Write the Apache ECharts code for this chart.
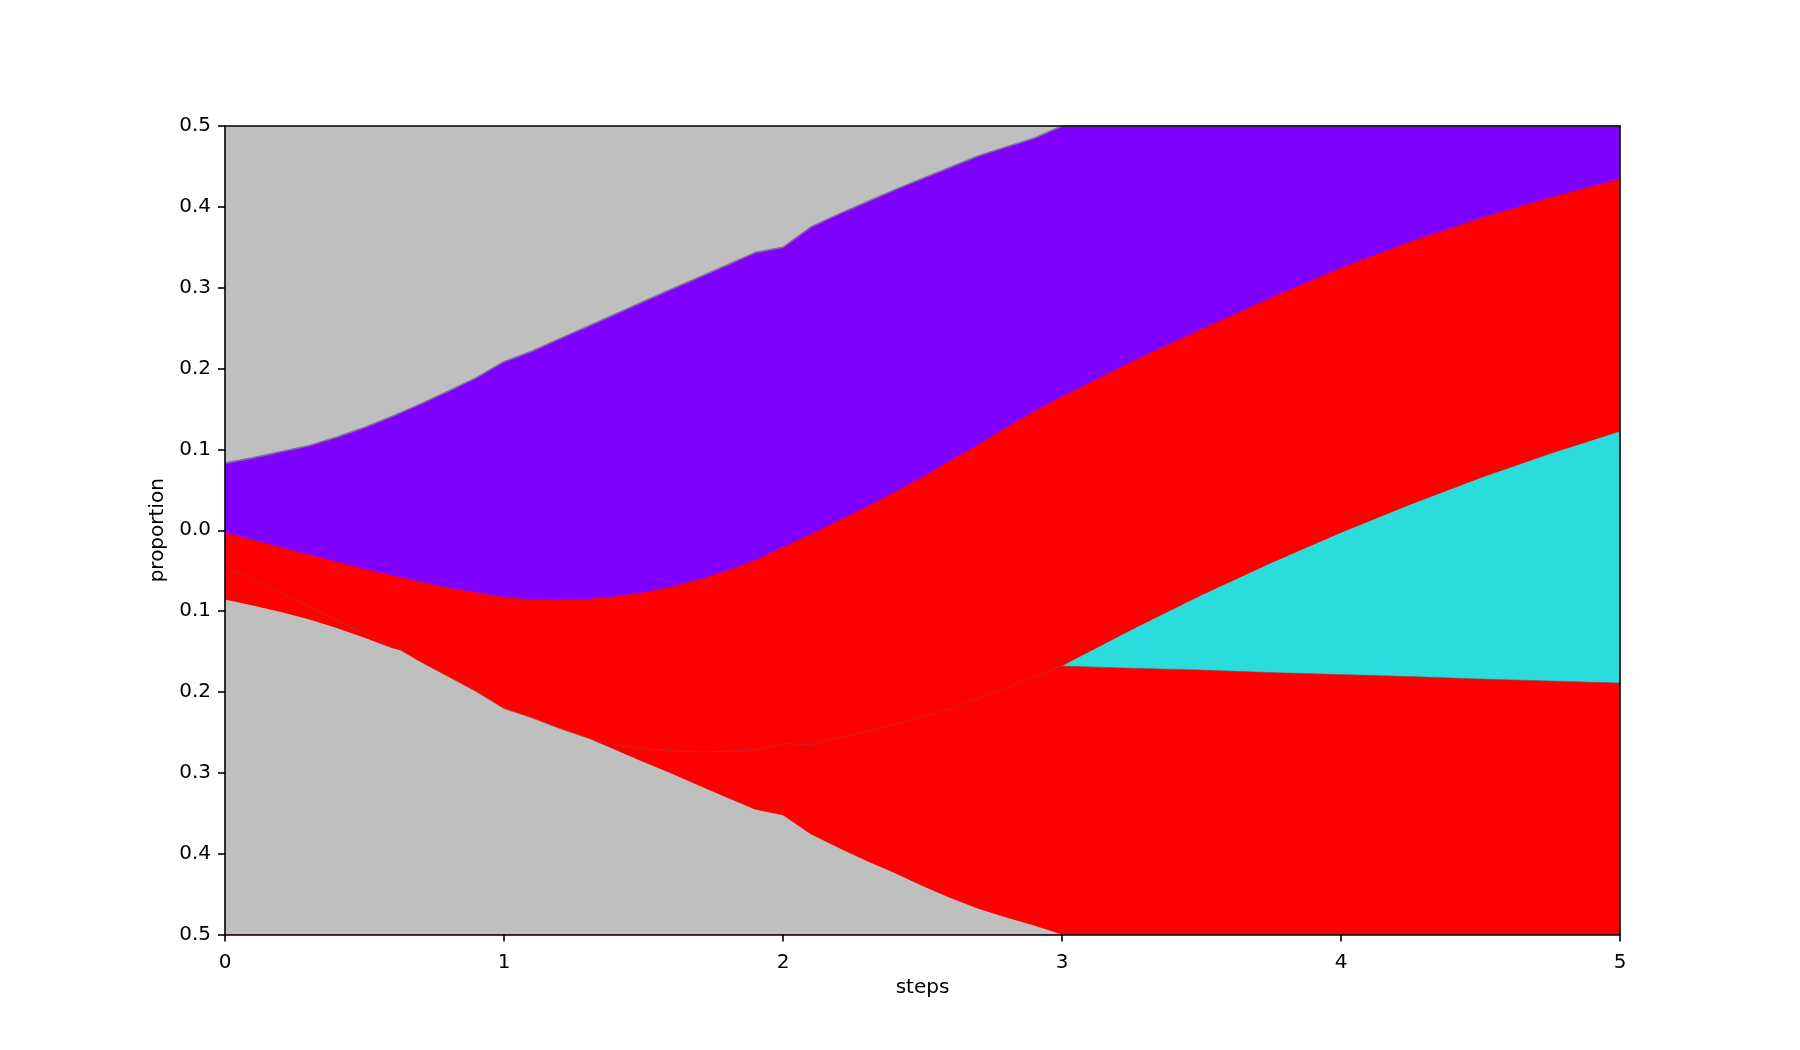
<!DOCTYPE html>
<html>
<head>
<meta charset="utf-8">
<script src="https://cdn.jsdelivr.net/npm/echarts@6/dist/echarts.min.js"></script>
<style>
html,body{margin:0;padding:0;background:#fff;}
#chart{width:1800px;height:1050px;}
</style>
</head>
<body>
<div id="chart"></div>
<script>
// x positions (steps)
const steps = [0,0.1,0.2,0.3,0.4,0.5,0.6,0.63,0.7,0.8,0.9,1.0,1.1,1.2,1.3,1.4,1.5,1.6,1.7,1.8,1.9,2.0,2.1,2.2,2.3,2.4,2.5,2.6,2.7,2.8,2.9,3.0,3.25,3.5,3.75,4.0,4.25,4.5,4.75,5.0];
// upper edge of the purple population (gray above)
const topEdge = [0.083,0.0895,0.097,0.1045,0.115,0.127,0.141,0.1455,0.156,0.172,0.1885,0.2085,0.2215,0.237,0.252,0.2675,0.283,0.298,0.313,0.328,0.3434,0.350,0.375,0.391,0.406,0.421,0.435,0.449,0.463,0.474,0.4848,0.5,0.5,0.5,0.5,0.5,0.5,0.5,0.5,0.5];
// lower edge of purple = upper edge of the upper red population
const purpleBottom = [-0.003,-0.012,-0.021,-0.030,-0.039,-0.048,-0.056,-0.058,-0.064,-0.071,-0.077,-0.083,-0.086,-0.0866,-0.085,-0.082,-0.077,-0.070,-0.061,-0.050,-0.037,-0.021,-0.005,0.012,0.029,0.047,0.066,0.086,0.106,0.127,0.147,0.165,0.2085,0.2485,0.2875,0.3245,0.357,0.386,0.4115,0.4346];
// upper edge of the cyan population (appears at step 3)
const cyanTop = [null,null,null,null,null,null,null,null,null,null,null,null,null,null,null,null,null,null,null,null,null,null,null,null,null,null,null,null,null,null,null,-0.168,-0.123,-0.0805,-0.0405,-0.003,0.032,0.0645,0.0945,0.122];
// upper edge of the lower red populations
const lowerRedTop = [-0.0445,-0.061,-0.078,-0.0945,-0.111,-0.128,-0.1445,-0.1484,-0.1625,-0.181,-0.1995,-0.2206,-0.232,-0.2453,-0.257,-0.2659,-0.270,-0.273,-0.274,-0.2735,-0.272,-0.264,-0.265,-0.257,-0.249,-0.240,-0.231,-0.221,-0.208,-0.195,-0.182,-0.168,-0.1706,-0.173,-0.176,-0.1785,-0.181,-0.184,-0.1865,-0.189];
// lower gray edge (gray below)
const grayBottom = [-0.0857,-0.093,-0.101,-0.110,-0.121,-0.133,-0.146,-0.1484,-0.1625,-0.181,-0.1995,-0.2206,-0.232,-0.2453,-0.257,-0.2718,-0.2865,-0.301,-0.316,-0.331,-0.3455,-0.3525,-0.376,-0.393,-0.409,-0.424,-0.440,-0.455,-0.468,-0.479,-0.489,-0.5,-0.5,-0.5,-0.5,-0.5,-0.5,-0.5,-0.5,-0.5];
const xTicks = [0,1,2,3,4,5];

const COLORS = {gray:'#bfbfbf', purple:'#8000ff', red:'#ff0000', cyan:'#2adcdc'};
const pairs = arr => steps.map((x,i)=>[x, arr[i]]);
const FONT = 'DejaVu Sans';

function band(name, arr, color, line) {
  return {
    name, type:'line', data: pairs(arr), symbol:'none', silent:true, z:2,
    connectNulls:false, clip:true,
    lineStyle: line || {opacity:0, width:0},
    areaStyle: {color, opacity:1, origin:'start'}
  };
}

const chart = echarts.init(document.getElementById('chart'), null, {renderer:'canvas'});
const axisLineStyle = {color:'#000', width:1.6};
chart.setOption({
  animation:false,
  backgroundColor:'#ffffff',
  grid:{left:225, right:180, top:126, bottom:115.5, show:true, backgroundColor:COLORS.gray, borderWidth:0, containLabel:false, outerBoundsMode:'none'},
  xAxis:[{
    type:'value', min:0, max:5, interval:1, z:10,
    name:'steps', nameLocation:'middle', nameGap:43,
    nameTextStyle:{fontFamily:FONT, fontSize:20, color:'#000'},
    axisLine:{show:true, onZero:false, lineStyle:axisLineStyle},
    axisTick:{show:true, inside:false, length:7, lineStyle:axisLineStyle},
    axisLabel:{fontFamily:FONT, fontSize:20, color:'#000', margin:18,
      formatter:v => xTicks.includes(v) ? String(v) : ''},
    splitLine:{show:false}
  },{
    type:'value', min:0, max:5, position:'top', z:10,
    axisLine:{show:true, onZero:false, lineStyle:axisLineStyle},
    axisTick:{show:false}, axisLabel:{show:false}, splitLine:{show:false}
  }],
  yAxis:[{
    type:'value', min:-0.5, max:0.5, interval:0.1, z:10,
    name:'proportion', nameLocation:'middle', nameGap:52,
    nameTextStyle:{fontFamily:FONT, fontSize:20, color:'#000'},
    axisLine:{show:true, onZero:false, lineStyle:axisLineStyle},
    axisTick:{show:true, inside:false, length:7, lineStyle:axisLineStyle},
    axisLabel:{fontFamily:FONT, fontSize:20, color:'#000', margin:14,
      formatter:v => Math.abs(v).toFixed(1)},
    splitLine:{show:false}
  },{
    type:'value', min:-0.5, max:0.5, position:'right', z:10,
    axisLine:{show:true, onZero:false, lineStyle:axisLineStyle},
    axisTick:{show:false}, axisLabel:{show:false}, splitLine:{show:false}
  }],
  series:[
    band('purple', topEdge, COLORS.purple, {color:'#7d68a0', width:1.6}),
    band('red upper', purpleBottom, COLORS.red),
    band('cyan', cyanTop, COLORS.cyan),
    band('red lower', lowerRedTop, COLORS.red, {color:'#8a4a4a', width:0.7, opacity:0.8}),
    band('gray lower', grayBottom, COLORS.gray)
  ]
});
</script>
</body>
</html>
